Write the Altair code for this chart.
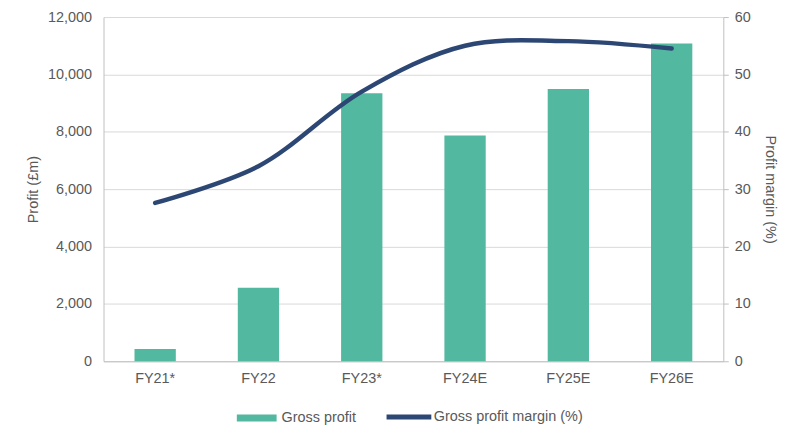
import altair as alt
import pandas as pd

categories = ["FY21*", "FY22", "FY23*", "FY24E", "FY25E", "FY26E"]
gross_profit = [430, 2560, 9340, 7870, 9490, 11080]
gross_margin = [27.6, 34.0, 47.0, 55.0, 55.8, 54.5]
series = ["Gross profit", "Gross profit margin (%)"]
series_colors = ["#52b9a0", "#2d4775"]

df = pd.DataFrame({
    "year": categories,
    "profit": gross_profit,
    "margin": gross_margin,
    "s1": [series[0]] * len(categories),
    "s2": [series[1]] * len(categories),
})

FONT = "Liberation Sans"
GREY = "#595959"
FS = 14.5

x = alt.X("year:N", sort=categories, title=None,
          scale=alt.Scale(paddingInner=0.6, paddingOuter=0.3),
          axis=alt.Axis(labelAngle=0, ticks=False, domainColor="#bfbfbf",
                        labelPadding=10, labelFontSize=FS, labelColor=GREY))

bars = alt.Chart(df).mark_bar().encode(
    x=x,
    y=alt.Y("profit:Q", title="Profit (£m)",
            scale=alt.Scale(domain=[0, 12000]),
            axis=alt.Axis(values=[0, 2000, 4000, 6000, 8000, 10000, 12000], format=",.0f",
                          ticks=False, domainColor="#bfbfbf", gridColor="#d9d9d9",
                          labelPadding=12, titlePadding=7)),
    color=alt.Color("s1:N", scale=alt.Scale(domain=[series[0]], range=[series_colors[0]]),
                    legend=alt.Legend(title=None, orient="none", legendX=134, legendY=383,
                                      symbolType="M-1,-0.18H1V0.18H-1Z", symbolSize=1600,
                                      symbolStrokeWidth=0, labelOffset=5, padding=0)),
)

line = alt.Chart(df).mark_line(strokeWidth=4.5, interpolate="catmull-rom", strokeCap="round").encode(
    x=x,
    y=alt.Y("margin:Q", title="Profit margin (%)",
            scale=alt.Scale(domain=[0, 60]),
            axis=alt.Axis(orient="right", values=[0, 10, 20, 30, 40, 50, 60], grid=False,
                          ticks=True, tickSize=5, tickColor="#bfbfbf", domainColor="#bfbfbf",
                          labelPadding=6, titlePadding=12)),
    color=alt.Color("s2:N", scale=alt.Scale(domain=[series[1]], range=[series_colors[1]]),
                    legend=alt.Legend(title=None, orient="none", legendX=282, legendY=377,
                                      symbolType="stroke", symbolSize=2025,
                                      symbolStrokeWidth=5, labelOffset=0, padding=0)),
)

chart = alt.layer(bars, line).resolve_scale(y="independent", color="independent").properties(
    width=623, height=346, padding={"left": 17, "top": 0, "right": 5, "bottom": 0}
).configure_view(stroke=None).configure_axis(
    labelFont=FONT, titleFont=FONT, labelFontSize=FS, titleFontSize=FS,
    labelColor=GREY, titleColor=GREY, titleFontWeight="normal"
).configure_legend(
    labelFont=FONT, labelFontSize=FS, labelColor=GREY
)

chart.save("out.html", embed_options={"renderer": "svg", "actions": False})
